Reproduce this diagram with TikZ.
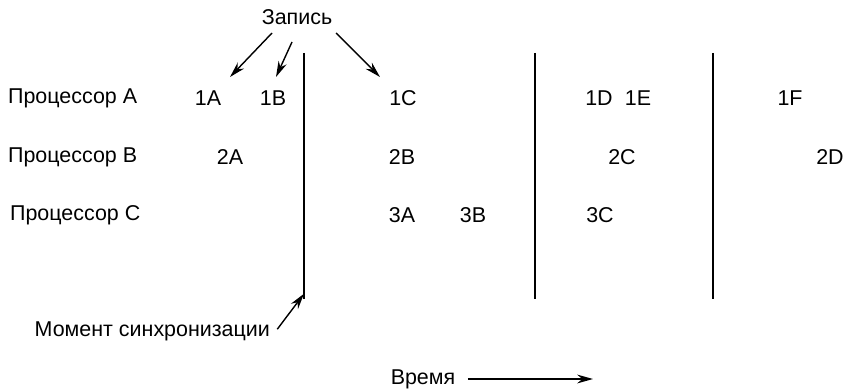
\documentclass[tikz,border=0pt]{standalone}
\usepackage{fontspec}
\setmainfont{Liberation Sans}
\usepackage{tikz}
\usetikzlibrary{arrows.meta}

\begin{document}
\begin{tikzpicture}[x=0.2mm, y=-0.2mm, every node/.style={font=\fontsize{12.2}{14}\selectfont, inner sep=1pt},
	pointer/.style={-{Stealth[length=9pt,width=5pt]}, line width=0.8pt},
	syncline/.style={line width=1.3pt}]
	\useasboundingbox (0,0) rectangle (850,389);
	
	%---------------- PROCESSOR ROWS ----------------
	\node[anchor=west] (procA) at (6,98)  {Процессор A};
	\node[anchor=west] (procB) at (6,157) {Процессор B};
	\node[anchor=west] (procC) at (8,215) {Процессор C};
	
	% operations of each processor
	\foreach \N/\X in {1A/208,1B/273,1C/403,1D/599,1E/638,1F/790} {
		\node (op\N) at (\X,98) {\N};
	}
	\foreach \N/\X in {2A/230,2B/402,2C/622,2D/830} {
		\node (op\N) at (\X,157) {\N};
	}
	\foreach \N/\X in {3A/402,3B/473,3C/600} {
		\node (op\N) at (\X,215) {\N};
	}
	
	%---------------- SYNCHRONISATION POINTS ----------------
	\foreach \S/\X in {s1/304,s2/535,s3/713} {
		\coordinate (\S t) at (\X,53);
		\coordinate (\S b) at (\X,299);
		\draw[syncline] (\S t) -- (\S b);
	}
	
	%---------------- WRITES ----------------
	\node (write) at (297,17) {Запись};
	\coordinate (w1) at (230,77);
	\coordinate (w2) at (276,77);
	\coordinate (w3) at (380,77);
	\draw[pointer] (272,33) -- (w1);
	\draw[pointer] (292,42) -- (w2);
	\draw[pointer] (336,33) -- (w3);
	
	%---------------- LABELS AT BOTTOM ----------------
	\node[anchor=east] (sync) at (272,331) {Момент синхронизации};
	\draw[pointer] ([xshift=3pt,yshift=1pt]sync.east) -- ([yshift=3pt]s1b);
	
	\node (time) at (423,379) {Время};
	\coordinate (timeend) at (593,379);
	\draw[pointer, line width=1.1pt] ([xshift=6pt]time.east) -- (timeend);
\end{tikzpicture}
\end{document}
